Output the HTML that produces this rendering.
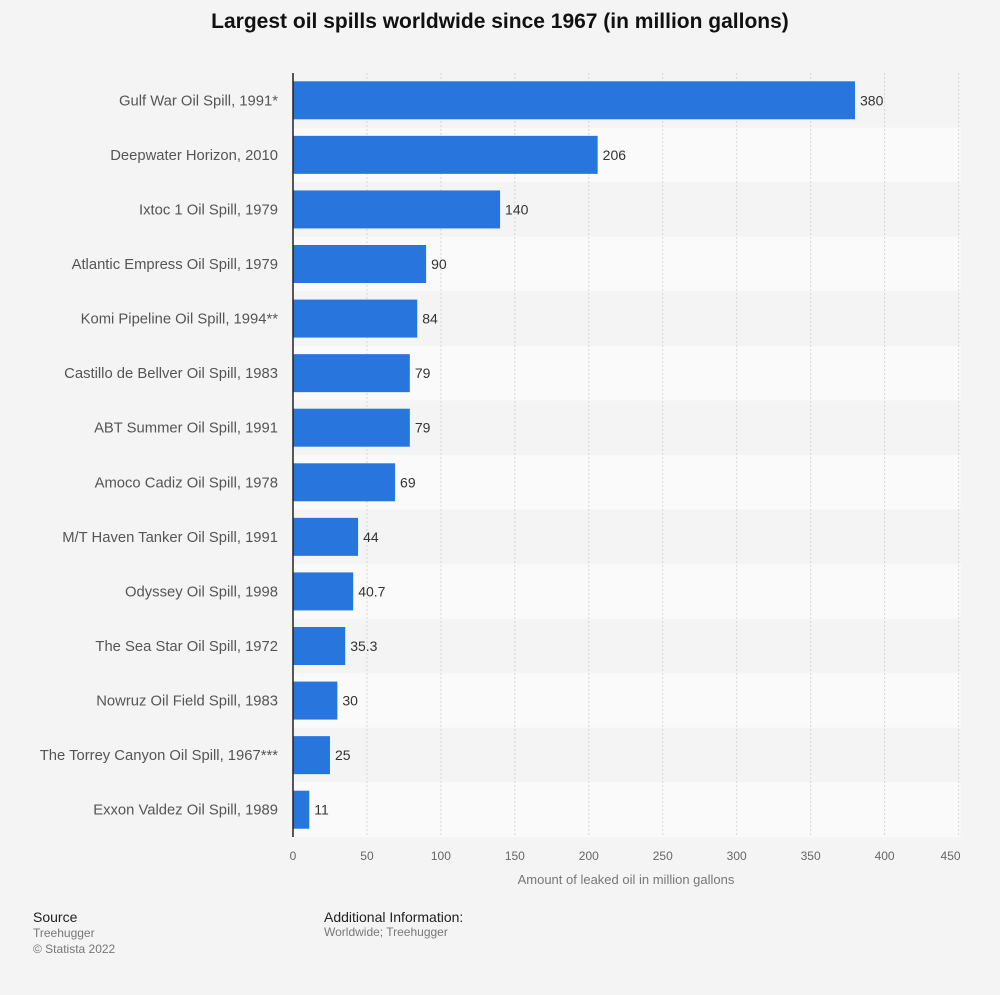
<!DOCTYPE html>
<html><head><meta charset="utf-8"><style>
body{margin:0;background:#f4f4f4;font-family:"Liberation Sans",sans-serif;}
#wrap{position:relative;width:1000px;height:995px;}
.t{position:absolute;white-space:nowrap;}
</style></head><body>
<div id="wrap">
<div class="t" style="left:0;width:1000px;text-align:center;top:10px;font-size:21px;font-weight:bold;color:#111">Largest oil spills worldwide since 1967 (in million gallons)</div>
<svg id="chart" width="1000" height="900" style="position:absolute;left:0;top:0" font-family="Liberation Sans, sans-serif"></svg>
<div class="t" style="left:33px;top:909px;font-size:14px;color:#222">Source</div>
<div class="t" style="left:33px;top:925px;font-size:12px;color:#777;line-height:16px">Treehugger<br>© Statista 2022</div>
<div class="t" style="left:324px;top:909px;font-size:14px;color:#222">Additional Information:</div>
<div class="t" style="left:324px;top:925px;font-size:12px;color:#777">Worldwide; Treehugger</div>
</div>
<script>
const categories=["Gulf War Oil Spill, 1991*","Deepwater Horizon, 2010","Ixtoc 1 Oil Spill, 1979","Atlantic Empress Oil Spill, 1979","Komi Pipeline Oil Spill, 1994**","Castillo de Bellver Oil Spill, 1983","ABT Summer Oil Spill, 1991","Amoco Cadiz Oil Spill, 1978","M/T Haven Tanker Oil Spill, 1991","Odyssey Oil Spill, 1998","The Sea Star Oil Spill, 1972","Nowruz Oil Field Spill, 1983","The Torrey Canyon Oil Spill, 1967***","Exxon Valdez Oil Spill, 1989"];
const values=[380,206,140,90,84,79,79,69,44,40.7,35.3,30,25,11];
const valueLabels=["380","206","140","90","84","79","79","69","44","40.7","35.3","30","25","11"];
const ticks=[0,50,100,150,200,250,300,350,400,450];
const svg=document.getElementById('chart');const NS='http://www.w3.org/2000/svg';
const x0=293,top0=73,bottom=837,kx=1.479;
const X=v=>x0+v*kx;const rowH=(bottom-top0)/categories.length;
function el(t,a,p){const e=document.createElementNS(NS,t);for(const k in a)e.setAttribute(k,a[k]);(p||svg).appendChild(e);return e;}
categories.forEach((c,i)=>{const b=el('rect',{x:x0,y:top0+i*rowH,width:X(450)+2-x0,height:rowH,fill:i%2?'#fafafa':'#f4f4f4'});

});
ticks.forEach(t=>{if(t===0)return;const g=el('line',{x1:X(t),x2:X(t),y1:top0,y2:bottom,stroke:'#d6d6d6','stroke-dasharray':'2,2'});

});
ticks.forEach(t=>{const l=el('text',{x:t===450?X(t)-8:X(t),y:860,'text-anchor':'middle','font-size':12,fill:'#666'});l.textContent=t;

});
categories.forEach((c,i)=>{const cy=top0+i*rowH+rowH/2;
const r=el('rect',{x:x0,y:cy-19,width:X(values[i])-x0,height:38,fill:'#2876dd'});


const v=el('text',{x:X(values[i])+5,y:cy+5,'font-size':14,fill:'#333'});v.textContent=valueLabels[i];


const l=el('text',{x:278,y:cy+5,'text-anchor':'end','font-size':14.8,fill:'#555'});l.textContent=c;

});
const ax=el('line',{x1:x0,x2:x0,y1:top0,y2:bottom,stroke:'#222','stroke-width':1.5});


const at=el('text',{x:626,y:884,'text-anchor':'middle','font-size':13,fill:'#777'});at.textContent='Amount of leaked oil in million gallons';


</script>
</body></html>
